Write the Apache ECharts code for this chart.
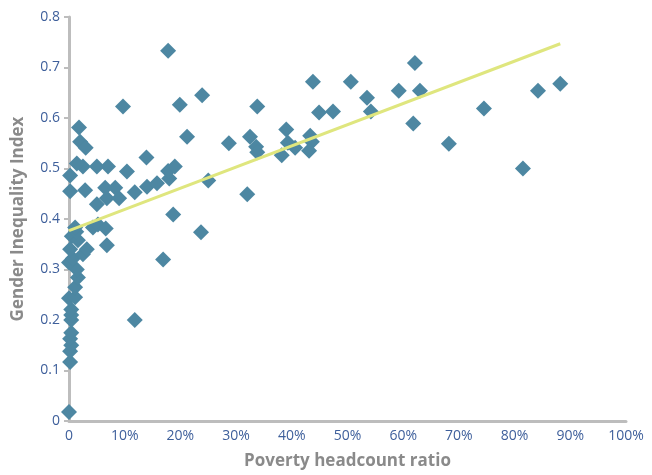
<!DOCTYPE html>
<html>
<head>
<meta charset="utf-8">
<script src="https://cdn.jsdelivr.net/npm/echarts@6/dist/echarts.min.js"></script>
<style>
html,body{margin:0;padding:0;background:#fff;}
#chart{width:652px;height:475px;}
</style>
</head>
<body>
<div id="chart"></div>
<script>
// Poverty headcount ratio (%)
const povertyX = [0,0.2,0.2,0.4,0.2,0.4,0.4,0.4,0.4,0,1.1,1.1,1.6,1.4,0,0.7,2.5,0.2,3.2,6.8,0.5,1.6,1.3,1.1,4.3,5.2,6.6,
  5.0,6.8,9.0,6.5,8.3,11.8,14.0,15.8,18.0,17.8,19.0,13.9,10.4,7.0,5.0,2.5,1.4,0.2,0.2,2.9,1.8,2.0,3.0,9.7,
  17.8,19.9,23.9,21.2,25.0,18.7,23.7,16.9,11.8,
  28.7,32.0,32.5,33.6,33.8,33.8,38.2,39.0,39.3,40.6,43.3,43.6,43.1,43.8,44.9,47.4,50.6,53.5,54.2,59.2,62.1,63.0,61.8,68.2,74.5,81.5,84.2,88.2];
// Gender Inequality Index
const giiY = [0.018,0.117,0.138,0.150,0.163,0.175,0.200,0.210,0.221,0.243,0.245,0.265,0.284,0.300,0.314,0.322,0.330,0.340,0.340,0.348,0.366,0.358,0.375,0.383,0.383,0.389,0.381,
  0.429,0.441,0.441,0.462,0.462,0.453,0.464,0.471,0.480,0.495,0.504,0.522,0.494,0.504,0.504,0.504,0.510,0.486,0.455,0.457,0.581,0.553,0.541,0.623,
  0.733,0.626,0.645,0.563,0.476,0.409,0.374,0.320,0.200,
  0.550,0.449,0.563,0.543,0.532,0.623,0.526,0.577,0.551,0.541,0.565,0.553,0.535,0.672,0.611,0.613,0.672,0.640,0.613,0.654,0.709,0.654,0.589,0.549,0.619,0.500,0.654,0.668];
// Trend line end points
const trendX = [0, 88.2];
const trendY = [0.377, 0.747];
const xTicks = [0,10,20,30,40,50,60,70,80,90,100];
const yTicks = [0,0.1,0.2,0.3,0.4,0.5,0.6,0.7,0.8];

const points = povertyX.map((x,i)=>[x,giiY[i]]);
const trend = trendX.map((x,i)=>[x,trendY[i]]);

const chart = echarts.init(document.getElementById('chart'));
const labelColor = '#3e5f9b';
const font = '"Open Sans", "Noto Sans", sans-serif';
chart.setOption({
  animation:false,
  grid:{left:69,right:26,top:17,bottom:53},
  xAxis:{
    type:'value',min:xTicks[0],max:xTicks[xTicks.length-1],interval:10,
    name:'Poverty headcount ratio',nameLocation:'middle',nameGap:32,
    nameTextStyle:{color:'#8a8a8a',fontSize:17,fontWeight:'bold',fontFamily:font},
    axisLine:{show:true,lineStyle:{color:'#bdbdbd',width:3}},
    axisTick:{show:false},
    splitLine:{show:false},
    axisLabel:{color:labelColor,fontSize:14,fontFamily:font,margin:8,
      formatter:v=>v===0?'0':v+'%'}
  },
  yAxis:{
    type:'value',min:yTicks[0],max:yTicks[yTicks.length-1],interval:0.1,
    name:'Gender Inequality Index',nameLocation:'middle',nameGap:42,
    nameTextStyle:{color:'#8a8a8a',fontSize:17,fontWeight:'bold',fontFamily:font},
    axisLine:{show:true,lineStyle:{color:'#bdbdbd',width:3}},
    axisTick:{show:true,length:5,lineStyle:{color:'#bdbdbd',width:2}},
    splitLine:{show:false},
    axisLabel:{color:labelColor,fontSize:14,fontFamily:font,margin:9,
      formatter:v=>String(Math.round(v*10)/10)}
  },
  series:[
    {type:'scatter',data:points,symbol:'diamond',symbolSize:16,
     itemStyle:{color:'#4d87a2',opacity:1},z:3},
    {type:'line',data:trend,symbol:'none',
     lineStyle:{color:'#dfe67e',width:3},z:4}
  ]
});
</script>
</body>
</html>
